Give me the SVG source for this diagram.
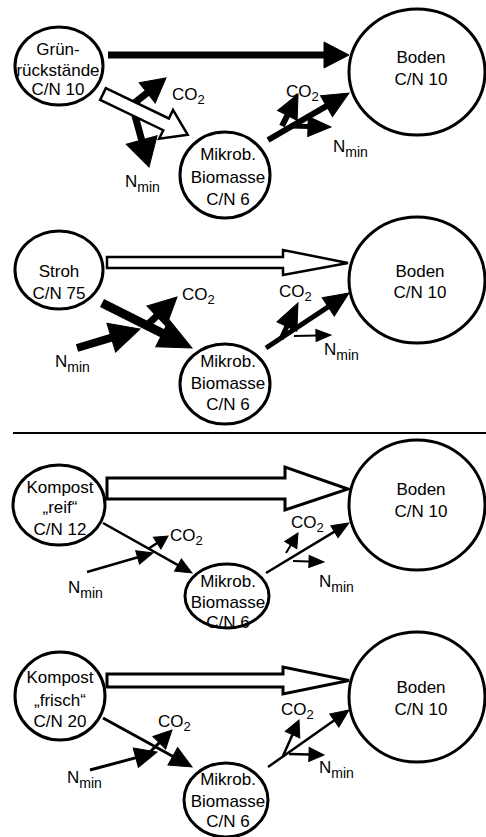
<svg xmlns="http://www.w3.org/2000/svg" width="486" height="837" viewBox="0 0 486 837">
<style>
.node ellipse{fill:#fff;stroke:#000;stroke-width:3}
text{font-family:"Liberation Sans",Arial,Helvetica,sans-serif;font-size:17px;fill:#000}
.c{text-anchor:middle}
.sub{font-size:13px}
.subn{font-size:14px}
.conn line{stroke:#000;stroke-linecap:butt}
.conn polygon{fill:#000;stroke:#000;stroke-width:1;stroke-linejoin:miter}
.hollow{fill:#fff;stroke:#000;stroke-linejoin:miter}
</style>
<rect width="486" height="837" fill="#fff"/>
<g id="connectors" class="conn">
<!-- panel 1 -->
<g transform="translate(108,55)"><line x1="0" y1="0" x2="217" y2="0" stroke-width="7"/><polygon points="216,-13 241,0 216,13"/></g>
<g transform="translate(128,108) rotate(-38.3)"><line x1="0" y1="0" x2="25" y2="0" stroke-width="7"/><polygon points="24.4,-13 48.4,0 24.4,13"/></g>
<g transform="translate(134,112) rotate(74.7)"><line x1="0" y1="0" x2="30" y2="0" stroke-width="7"/><polygon points="29,-16 57,0 29,16"/></g>
<path class="hollow" stroke-width="2.5" transform="translate(103,94) rotate(25.7)" d="M0,-6.5 L70,-6.5 L70,-16 L94,0 L70,16 L70,6.5 L0,6.5 Z"/>
<g transform="translate(268,140) rotate(-30.1)"><line x1="0" y1="0" x2="68" y2="0" stroke-width="6"/><polygon points="67.6,-12 93.6,0 67.6,12"/></g>
<g transform="translate(282,126) rotate(-63.4)"><line x1="0" y1="0" x2="12" y2="0" stroke-width="6"/><polygon points="11.8,-11 35.8,0 11.8,11"/></g>
<g transform="translate(290,126) rotate(1.4)"><line x1="0" y1="0" x2="19" y2="0" stroke-width="5"/><polygon points="18,-10 41,0 18,10"/></g>
<!-- panel 2 -->
<path class="hollow" stroke-width="2.5" d="M107,257 L283,257 L283,250 L348,263 L283,275 L283,268 L107,268 Z"/>
<g transform="translate(102,303) rotate(26.6)"><line x1="0" y1="0" x2="68" y2="0" stroke-width="9"/><polygon points="67.6,-15 100.6,0 67.6,15"/></g>
<g transform="translate(145,327) rotate(-43.2)"><line x1="0" y1="0" x2="17" y2="0" stroke-width="7"/><polygon points="15.9,-14 43.9,0 15.9,14"/></g>
<g transform="translate(77,348) rotate(-16.8)"><line x1="0" y1="0" x2="37" y2="0" stroke-width="8"/><polygon points="35.8,-15 65.8,0 35.8,15"/></g>
<g transform="translate(266,348) rotate(-33.5)"><line x1="0" y1="0" x2="75" y2="0" stroke-width="5"/><polygon points="74.6,-11 99.6,0 74.6,11"/></g>
<g transform="translate(281,339) rotate(-64.7)"><line x1="0" y1="0" x2="15" y2="0" stroke-width="5"/><polygon points="13.8,-11 39.8,0 13.8,11"/></g>
<g transform="translate(294,336) rotate(-1.5)"><line x1="0" y1="0" x2="23" y2="0" stroke-width="2"/><polygon points="22,-6 37,0 22,6"/></g>
<!-- divider -->
<line x1="13" y1="433" x2="486" y2="433" stroke-width="2"/>
<!-- panel 3 -->
<path class="hollow" stroke-width="3" d="M107,478 L285,478 L285,467 L348,489 L285,510 L285,499 L107,499 Z"/>
<g transform="translate(103,523) rotate(29.3)"><line x1="0" y1="0" x2="87" y2="0" stroke-width="2.5"/><polygon points="86,-7 102,0 86,7"/></g>
<g transform="translate(87,572) rotate(-16.1)"><line x1="0" y1="0" x2="53" y2="0" stroke-width="2.5"/><polygon points="52.7,-7 68.7,0 52.7,7"/></g>
<g transform="translate(148,549) rotate(-33)"><line x1="0" y1="0" x2="11" y2="0" stroke-width="2.5"/><polygon points="10.9,-7 23.9,0 10.9,7"/></g>
<g transform="translate(266,573) rotate(-31.1)"><line x1="0" y1="0" x2="80" y2="0" stroke-width="2.5"/><polygon points="79.9,-7 96.9,0 79.9,7"/></g>
<g transform="translate(286,553) rotate(-59)"><line x1="0" y1="0" x2="10" y2="0" stroke-width="2"/><polygon points="9.3,-7 23.3,0 9.3,7"/></g>
<g transform="translate(293,561) rotate(1.8)"><line x1="0" y1="0" x2="16" y2="0" stroke-width="2"/><polygon points="16,-6 31,0 16,6"/></g>
<!-- panel 4 -->
<path class="hollow" stroke-width="3" d="M107,674 L283,674 L283,667 L349,680.5 L283,694 L283,687 L107,687 Z"/>
<g transform="translate(103,718) rotate(28.8)"><line x1="0" y1="0" x2="80" y2="0" stroke-width="3"/><polygon points="79.6,-10 101.6,0 79.6,10"/></g>
<g transform="translate(90,770) rotate(-15)"><line x1="0" y1="0" x2="48" y2="0" stroke-width="3"/><polygon points="47.4,-10 69.4,0 47.4,10"/></g>
<g transform="translate(150,752) rotate(-45)"><line x1="0" y1="0" x2="14" y2="0" stroke-width="3"/><polygon points="13.1,-9 31.1,0 13.1,9"/></g>
<g transform="translate(268,767) rotate(-35.1)"><line x1="0" y1="0" x2="82" y2="0" stroke-width="2.5"/><polygon points="81,-8 99,0 81,8"/></g>
<g transform="translate(283,756) rotate(-66)"><line x1="0" y1="0" x2="24" y2="0" stroke-width="2.5"/><polygon points="23.4,-8 39.4,0 23.4,8"/></g>
<g transform="translate(289,754) rotate(1.6)"><line x1="0" y1="0" x2="21" y2="0" stroke-width="2.5"/><polygon points="20,-7 35,0 20,7"/></g>
</g>
<!-- panel 1 nodes -->
<g id="gruen" class="node"><ellipse cx="59" cy="66" rx="44" ry="39"/><text class="c" x="58" y="55">Grün-</text><text class="c" x="58" y="76">rückstände</text><text class="c" x="58" y="95">C/N 10</text></g>
<g id="boden1" class="node"><ellipse cx="417" cy="72" rx="68" ry="63"/><text class="c" x="421" y="63">Boden</text><text class="c" x="421" y="85">C/N 10</text></g>
<g id="mikrob1" class="node"><ellipse cx="225" cy="175" rx="45" ry="43"/><text class="c" x="228" y="160">Mikrob.</text><text class="c" x="228" y="183">Biomasse</text><text class="c" x="228" y="205">C/N 6</text></g>
<!-- panel 2 nodes -->
<g id="stroh" class="node"><ellipse cx="59" cy="270" rx="44" ry="39"/><text class="c" x="59" y="277">Stroh</text><text class="c" x="59" y="299">C/N 75</text></g>
<g id="boden2" class="node"><ellipse cx="417" cy="280" rx="68" ry="63"/><text class="c" x="420" y="277">Boden</text><text class="c" x="420" y="298">C/N 10</text></g>
<g id="mikrob2" class="node"><ellipse cx="225" cy="384" rx="45" ry="40"/><text class="c" x="228" y="367">Mikrob.</text><text class="c" x="228" y="389">Biomasse</text><text class="c" x="228" y="410">C/N 6</text></g>
<!-- panel 3 nodes -->
<g id="kompost-reif" class="node"><ellipse cx="59" cy="505" rx="46" ry="40"/><text class="c" x="60" y="493">Kompost</text><text class="c" x="60" y="513">„reif“</text><text class="c" x="60" y="535">C/N 12</text></g>
<g id="boden3" class="node"><ellipse cx="417" cy="505" rx="68" ry="65"/><text class="c" x="421" y="495">Boden</text><text class="c" x="421" y="517">C/N 10</text></g>
<g id="mikrob3" class="node"><ellipse cx="227" cy="596" rx="42" ry="32"/><text class="c" x="228" y="587">Mikrob.</text><text class="c" x="228" y="608">Biomasse</text><text class="c" x="228" y="628">C/N 6</text></g>
<!-- panel 4 nodes -->
<g id="kompost-frisch" class="node"><ellipse cx="60" cy="696" rx="45" ry="44"/><text class="c" x="60" y="683">Kompost</text><text class="c" x="60" y="706">„frisch“</text><text class="c" x="60" y="727">C/N 20</text></g>
<g id="boden4" class="node"><ellipse cx="417" cy="697" rx="68" ry="65"/><text class="c" x="421" y="693">Boden</text><text class="c" x="421" y="715">C/N 10</text></g>
<g id="mikrob4" class="node"><ellipse cx="226" cy="800" rx="42" ry="37"/><text class="c" x="228" y="785">Mikrob.</text><text class="c" x="228" y="807">Biomasse</text><text class="c" x="228" y="827">C/N 6</text></g>
<!-- labels -->
<g id="labels">
<text x="172" y="100">CO<tspan class="sub" dy="4">2</tspan></text>
<text x="125" y="187">N<tspan class="subn" dy="5">min</tspan></text>
<text x="286" y="97">CO<tspan class="sub" dy="4">2</tspan></text>
<text x="333" y="152">N<tspan class="subn" dy="5">min</tspan></text>
<text x="182" y="300">CO<tspan class="sub" dy="4">2</tspan></text>
<text x="55" y="367">N<tspan class="subn" dy="5">min</tspan></text>
<text x="279" y="297">CO<tspan class="sub" dy="4">2</tspan></text>
<text x="324" y="355">N<tspan class="subn" dy="5">min</tspan></text>
<text x="170" y="541">CO<tspan class="sub" dy="4">2</tspan></text>
<text x="68" y="593">N<tspan class="subn" dy="5">min</tspan></text>
<text x="291" y="528">CO<tspan class="sub" dy="4">2</tspan></text>
<text x="319" y="587">N<tspan class="subn" dy="5">min</tspan></text>
<text x="158" y="727">CO<tspan class="sub" dy="4">2</tspan></text>
<text x="67" y="783">N<tspan class="subn" dy="5">min</tspan></text>
<text x="281" y="715">CO<tspan class="sub" dy="4">2</tspan></text>
<text x="319" y="773">N<tspan class="subn" dy="5">min</tspan></text>
</g>
</svg>
